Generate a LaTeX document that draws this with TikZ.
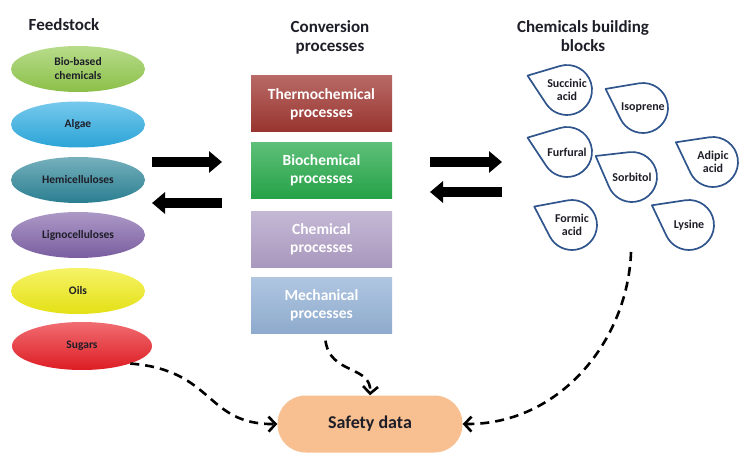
\documentclass[tikz,border=0pt]{standalone}
\usepackage{fontspec}
\setmainfont{Carlito}
\usetikzlibrary{shapes.geometric,arrows.meta,calc}

\definecolor{biobased}{RGB}{146,201,76}
\definecolor{algae}{RGB}{45,172,226}
\definecolor{hemi}{RGB}{44,133,152}
\definecolor{ligno}{RGB}{128,98,168}
\definecolor{oils}{RGB}{240,236,22}
\definecolor{sugars}{RGB}{232,30,37}
\definecolor{thermo}{RGB}{160,55,50}
\definecolor{bioproc}{RGB}{40,170,75}
\definecolor{chemproc}{RGB}{177,160,199}
\definecolor{mechproc}{RGB}{149,179,215}
\definecolor{safety}{RGB}{248,192,144}
\definecolor{dropblue}{RGB}{47,85,140}
\definecolor{darktext}{RGB}{30,30,40}

\tikzset{
  feed/.style={ellipse, inner sep=0pt, minimum width=134pt, minimum height=46pt,
    top color=#1!65!white, middle color=#1, bottom color=#1!95!black,
    text=darktext, align=center, font=\bfseries\fontsize{11.5}{14}\selectfont},
  process/.style={rectangle, inner sep=0pt, minimum width=141pt, minimum height=56pt,
    top color=#1!75!white, middle color=#1, bottom color=#1!95!black,
    text=white, align=center, font=\bfseries\fontsize{15.5}{18}\selectfont},
  heading/.style={align=center, text=darktext, font=\bfseries\fontsize{17}{19}\selectfont},
  droptext/.style={align=center, text=darktext, inner sep=0pt, font=\bfseries\fontsize{12}{13.5}\selectfont},
  dropline/.style={draw=dropblue, line width=1.7pt, line join=round},
  blockarrow/.style={line width=10pt, -{Triangle[length=13pt,width=21pt]}},
  safetylink/.style={line width=2.6pt, dash pattern=on 9pt off 6pt, -{Straight Barb[length=7pt,width=15pt,line width=2.6pt]}}
}

\begin{document}
\begin{tikzpicture}[x=1pt,y=1pt,yscale=-1]
\useasboundingbox (0,0) rectangle (739,454);

% Text Node
\node[heading] (feedtitle) at (64,25) {Feedstock};
% Text Node
\node[heading] (convtitle) at (330,37) {Conversion\\processes};
% Text Node
\node[heading] (chemtitle) at (583,36) {Chemicals building\\blocks};

%Shape: Ellipse
\node[feed=biobased] (biobased) at (78,69) {Bio-based\\chemicals};
%Shape: Ellipse
\node[feed=algae] (algae) at (78,124.5) {Algae};
%Shape: Ellipse
\node[feed=hemi] (hemi) at (78,180) {Hemicelluloses};
%Shape: Ellipse
\node[feed=ligno] (ligno) at (78,235) {Lignocelluloses};
%Shape: Ellipse
\node[feed=oils] (oils) at (78,291) {Oils};
%Shape: Ellipse
\node[feed=sugars, minimum width=140pt, minimum height=48pt] (sugars) at (82,346) {Sugars};

%Shape: Rectangle
\node[process=thermo] (thermo) at (321.5,104) {Thermochemical\\processes};
%Shape: Rectangle
\node[process=bioproc] (bioproc) at (321.5,170.5) {Biochemical\\processes};
%Shape: Rectangle
\node[process=chemproc] (chemproc) at (321.5,239.5) {Chemical\\processes};
%Shape: Rectangle
\node[process=mechproc] (mechproc) at (321.5,305.5) {Mechanical\\processes};

%Shape: Rounded Rectangle
\node[fill=safety, rounded corners=28pt, minimum width=185pt, minimum height=57pt,
  text=darktext, font=\bfseries\fontsize{18}{20}\selectfont] (safety) at (370,424) {Safety data};

%Shape: Drop
\node[droptext] (succinic) at (567,90) {Succinic\\acid};
\draw[dropline] ($(succinic.center)+(-160:42)$) -- ($(succinic.center)+(-106.5:25)$) arc[start angle=-106.5, delta angle=253, radius=25] -- cycle;
%Shape: Drop
\node[droptext] (isoprene) at (643,108) {Isoprene};
\draw[dropline] ($(isoprene.center)+(-153:42)$) -- ($(isoprene.center)+(-99.5:25)$) arc[start angle=-99.5, delta angle=253, radius=25] -- cycle;
%Shape: Drop
\node[droptext] (furfural) at (567,152) {Furfural};
\draw[dropline] ($(furfural.center)+(-160:42)$) -- ($(furfural.center)+(-106.5:25)$) arc[start angle=-106.5, delta angle=253, radius=25] -- cycle;
%Shape: Drop
\node[droptext] (sorbitol) at (632,177) {Sorbitol};
\draw[dropline] ($(sorbitol.center)+(-150:42)$) -- ($(sorbitol.center)+(-96.5:25)$) arc[start angle=-96.5, delta angle=253, radius=25] -- cycle;
%Shape: Drop
\node[droptext] (adipic) at (713,162) {Adipic\\acid};
\draw[dropline] ($(adipic.center)+(-152:42)$) -- ($(adipic.center)+(-98.5:25)$) arc[start angle=-98.5, delta angle=253, radius=25] -- cycle;
%Shape: Drop
\node[droptext] (formic) at (572,225) {Formic\\acid};
\draw[dropline] ($(formic.center)+(-154:42)$) -- ($(formic.center)+(-100.5:25)$) arc[start angle=-100.5, delta angle=253, radius=25] -- cycle;
%Shape: Drop
\node[droptext] (lysine) at (689,225) {Lysine};
\draw[dropline] ($(lysine.center)+(-152:42)$) -- ($(lysine.center)+(-98.5:25)$) arc[start angle=-98.5, delta angle=253, radius=25] -- cycle;

%Block Arrows
\coordinate (feedout) at (152,162);
\coordinate (procin) at (222,162);
\coordinate (procout) at (222,203);
\coordinate (feedin) at (152,203);
\draw[blockarrow] (feedout) -- (procin);
\draw[blockarrow] (procout) -- (feedin);
\coordinate (procright) at (430,162);
\coordinate (chemleft) at (502,162);
\coordinate (chemback) at (502,192);
\coordinate (procback) at (430,192);
\draw[blockarrow] (procright) -- (chemleft);
\draw[blockarrow] (chemback) -- (procback);

%Curve Lines
\draw[safetylink] (sugars.-20) .. controls (215,370) and (205,425) .. (safety.west);
%Curve Lines
\draw[safetylink] ($(mechproc.south)+(4,7)$) .. controls (330,375) and (372,365) .. (safety.north);
%Curve Lines
\coordinate (chemend) at (631,252);
\draw[safetylink] (chemend) .. controls (628,340) and (560,425) .. (safety.east);

\end{tikzpicture}
\end{document}
